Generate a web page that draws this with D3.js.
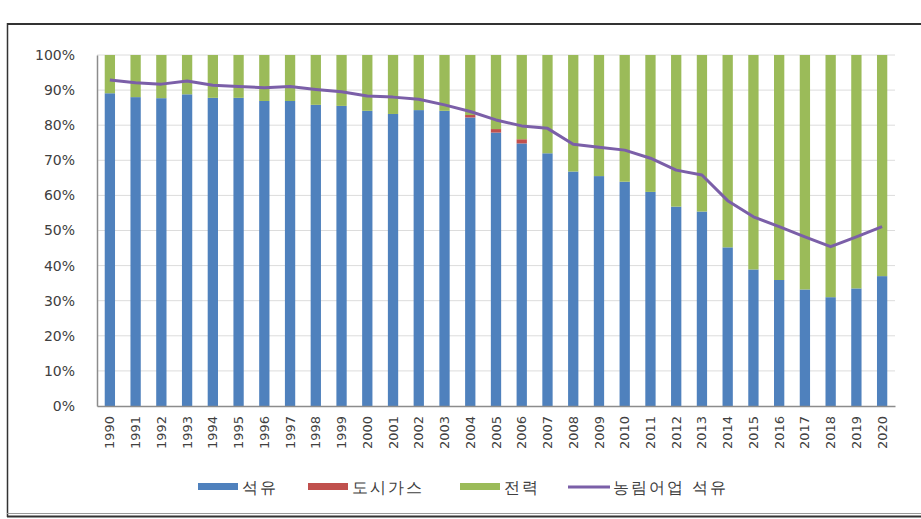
<!DOCTYPE html>
<html>
<head>
<meta charset="utf-8">
<script src="https://cdn.jsdelivr.net/npm/d3@7"></script>
<style>
  body { margin: 0; background: #fff; }
  svg text { font-family: "DejaVu Sans", Verdana, sans-serif; fill: #404040; }
</style>
</head>
<body>
<svg id="svg" width="921" height="519"></svg>
<script>
const w = 921;
const h = 519;

// data (shares in %)
const years = d3.range(1990, 2021).map(String);
const oil = [89.1, 88.0, 87.7, 88.8, 87.8, 87.8, 86.9, 86.9, 85.8, 85.5,
  84.1, 83.2, 84.3, 84.1, 82.2, 77.9, 74.8, 72.0, 66.8, 65.5,
  63.9, 61.0, 56.8, 55.4, 45.2, 38.9, 35.9, 33.2, 31.0, 33.5, 37.0];
const cityGas = [0, 0, 0, 0, 0, 0, 0, 0, 0, 0,
  0, 0, 0, 0, 0.7, 1.0, 1.2, 0, 0, 0,
  0, 0, 0, 0, 0, 0, 0, 0, 0, 0, 0];
const power = oil.map((v, i) => 100 - v - cityGas[i]);
const farmOil = [92.9, 92.1, 91.7, 92.6, 91.4, 91.0, 90.7, 91.0, 90.2, 89.5,
  88.3, 88.0, 87.4, 85.8, 83.9, 81.5, 79.8, 79.1, 74.6, 73.7,
  72.9, 70.6, 67.2, 65.8, 58.5, 53.9, 51.1, 48.2, 45.4, 48.2, 51.1];
const yTicks = [0, 10, 20, 30, 40, 50, 60, 70, 80, 90, 100];

const seriesNames = ["석유", "도시가스", "전력"];
const lineName = "농림어업 석유";
const colors = ["#4F81BD", "#C0504D", "#9BBB59"];
const lineColor = "#7B5FA8";

const svg = d3.select("#svg");

// outer frame
svg.append("line").attr("x1", 7).attr("x2", w).attr("y1", 24).attr("y2", 24)
  .attr("stroke", "#333").attr("stroke-width", 2);
svg.append("line").attr("x1", 7.5).attr("x2", 7.5).attr("y1", 23).attr("y2", 517)
  .attr("stroke", "#333").attr("stroke-width", 1.5);
svg.append("line").attr("x1", 7).attr("x2", w).attr("y1", 513.5).attr("y2", 513.5)
  .attr("stroke", "#999").attr("stroke-width", 1);
svg.append("line").attr("x1", 7).attr("x2", w).attr("y1", 516.5).attr("y2", 516.5)
  .attr("stroke", "#333").attr("stroke-width", 2);

const plotLeft = 97, plotRight = 895, plotTop = 55, plotBottom = 406;

const xScale = d3.scaleBand(years, [plotLeft, plotRight]).paddingInner(0.6).paddingOuter(0.3);
const yScale = d3.scaleLinear([0, 100], [plotBottom, plotTop]);

// grid
svg.append("g")
  .selectAll("line")
  .data(yTicks.filter((d) => d > 0))
  .join("line")
  .attr("x1", plotLeft).attr("x2", plotRight)
  .attr("y1", (d) => yScale(d)).attr("y2", (d) => yScale(d))
  .attr("stroke", "#dcdcdc").attr("stroke-width", 1);

// stacked bars
const table = years.map((y, i) => ({ year: y, "석유": oil[i], "도시가스": cityGas[i], "전력": power[i] }));
const stacked = d3.stack().keys(seriesNames)(table);

svg.append("g")
  .selectAll("g")
  .data(stacked)
  .join("g")
  .attr("fill", (d, i) => colors[i])
  .selectAll("rect")
  .data((d) => d)
  .join("rect")
  .attr("x", (d) => xScale(d.data.year))
  .attr("width", xScale.bandwidth())
  .attr("y", (d) => yScale(d[1]))
  .attr("height", (d) => yScale(d[0]) - yScale(d[1]));

// axes
const yAxis = svg.append("g")
  .attr("transform", `translate(${plotLeft},0)`)
  .call(d3.axisLeft(yScale).tickValues(yTicks).tickSize(0).tickPadding(22).tickFormat((d) => d + "%"));
yAxis.select(".domain").attr("stroke", "#8c8c8c").attr("stroke-width", 1.5);
yAxis.selectAll("text").attr("font-size", 14).attr("font-family", "DejaVu Sans").attr("fill", "#404040");

const xAxis = svg.append("g")
  .attr("transform", `translate(0,${plotBottom})`)
  .call(d3.axisBottom(xScale).tickSize(0).tickPadding(10));
xAxis.select(".domain").attr("stroke", "#8c8c8c").attr("stroke-width", 1.5);
xAxis.selectAll("text")
  .attr("font-size", 13)
  .attr("font-family", "DejaVu Sans")
  .attr("fill", "#404040")
  .attr("text-anchor", "end")
  .attr("transform", "rotate(-90)")
  .attr("x", -10)
  .attr("y", 0)
  .attr("dy", "0.35em");

// line
const lineFunc = d3.line()
  .x((d, i) => xScale(years[i]) + xScale.bandwidth() / 2)
  .y((d) => yScale(d));

svg.append("path")
  .datum(farmOil)
  .attr("fill", "none")
  .attr("stroke", lineColor)
  .attr("stroke-width", 3)
  .attr("stroke-linejoin", "round")
  .attr("d", lineFunc);

// legend
const legend = svg.append("g").attr("font-size", 16).attr("font-family", "Noto Sans CJK KR");
const legendItems = [
  { name: seriesNames[0], x: 198, color: colors[0] },
  { name: seriesNames[1], x: 308, color: colors[1] },
  { name: seriesNames[2], x: 460, color: colors[2] },
];
legendItems.forEach((d) => {
  legend.append("rect").attr("x", d.x).attr("y", 483).attr("width", 40).attr("height", 7).attr("fill", d.color);
  legend.append("text").attr("x", d.x + 44).attr("y", 487).attr("dy", "0.35em")
    .attr("letter-spacing", 2).attr("font-family", "Noto Sans CJK KR").text(d.name);
});
legend.append("line").attr("x1", 568).attr("x2", 610).attr("y1", 487).attr("y2", 487)
  .attr("stroke", lineColor).attr("stroke-width", 3);
legend.append("text").attr("x", 613).attr("y", 487).attr("dy", "0.35em")
  .attr("letter-spacing", 2).attr("font-family", "Noto Sans CJK KR").text(lineName);
</script>
</body>
</html>
